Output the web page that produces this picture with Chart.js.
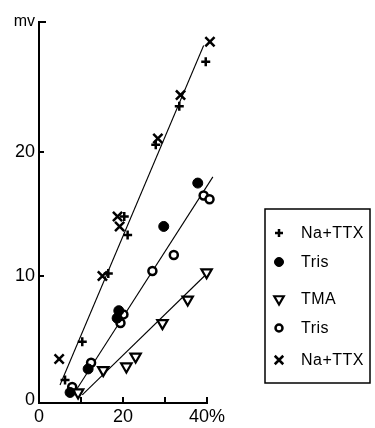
<!DOCTYPE html>
<html>
<head>
<meta charset="utf-8">
<style>
  html, body { margin: 0; background: #fff; }
  #wrap { position: relative; width: 375px; height: 428px; }
</style>
</head>
<body>
<div id="wrap"><canvas id="myChart"></canvas></div>
<script src="https://cdn.jsdelivr.net/npm/chart.js@4/dist/chart.umd.min.js"></script>
<script>
'use strict';
//  данные (x — %, y — mV)
// Na+TTX, крестик "+"
const naPlusX = [6.2, 10.3, 16.5, 20.3, 21.1, 27.8, 33.4, 39.7];
const naPlusY = [1.6, 4.7, 10.2, 14.8, 13.3, 20.6, 23.7, 27.3];
// Tris, закрашенный кружок
const trisFullX = [7.4, 11.7, 18.6, 19.0, 29.7, 37.8, 41.6];
const trisFullY = [0.6, 2.5, 6.6, 7.2, 14.0, 17.5, 18.3];
// TMA, треугольник
const tmaX = [9.3, 15.3, 20.8, 23.0, 29.4, 35.4, 39.9];
const tmaY = [0.6, 2.4, 2.7, 3.5, 6.2, 8.1, 10.3];
// Tris, пустой кружок
const trisOpenX = [7.9, 12.4, 19.4, 20.1, 27.0, 32.1, 39.2, 40.6];
const trisOpenY = [1.05, 3.0, 6.2, 6.9, 10.4, 11.7, 16.5, 16.2];
// Na+TTX, косой крестик "x"
const naRotX = [4.8, 15.1, 18.7, 19.2, 28.3, 33.7, 40.7];
const naRotY = [3.3, 10.0, 14.8, 14.0, 21.1, 24.6, 28.9];

//  прямые (концы линий)
const fitNaX = [5.0, 39.2];
const fitNaY = [1.2, 28.6];
const fitTrisX = [8.1, 41.4];
const fitTrisY = [0.4, 18.0];
const fitTmaX = [10.3, 39.7];
const fitTmaY = [0.4, 10.1];

//  подписи
const legendLabels = ['Na+TTX', 'Tris', 'TMA', 'Tris', 'Na+TTX'];
const xTicks = [0, 10, 20, 30, 40];
const xTickLabels = ['0', '', '20', '', '40%'];
const yTicks = [0, 10, 20, 30.5];
const yTickLabels = ['0', '10', '20', 'mv'];

//  склеивает x и y в точки
function toPoints(xs, ys) {
  return xs.map((x, i) => ({x: x, y: ys[i]}));
}

const black = '#000';
const font = '"Liberation Sans", Arial, sans-serif';

//  маркеры серий
const markerSets = [
  {label: legendLabels[0], data: toPoints(naPlusX, naPlusY), pointStyle: 'cross',
    pointRadius: 4.5, pointBorderWidth: 2.5, pointBackgroundColor: black},
  {label: legendLabels[1], data: toPoints(trisFullX, trisFullY), pointStyle: 'circle',
    pointRadius: 5, pointBorderWidth: 1, pointBackgroundColor: black},
  {label: legendLabels[2], data: toPoints(tmaX, tmaY), pointStyle: 'triangle', pointRotation: 180,
    pointRadius: 6, pointBorderWidth: 2.2, pointBackgroundColor: '#fff'},
  {label: legendLabels[3], data: toPoints(trisOpenX, trisOpenY), pointStyle: 'circle',
    pointRadius: 4, pointBorderWidth: 2.5, pointBackgroundColor: '#fff'},
  {label: legendLabels[4], data: toPoints(naRotX, naRotY), pointStyle: 'crossRot',
    pointRadius: 6.5, pointBorderWidth: 2.5, pointBackgroundColor: black}
].map(d => Object.assign(d, {pointBorderColor: black, showLine: false, order: 1, clip: false}));

//  линии
const lineSets = [[fitNaX, fitNaY], [fitTrisX, fitTrisY], [fitTmaX, fitTmaY]].map(p => ({
  label: '', data: toPoints(p[0], p[1]), showLine: true, pointRadius: 0,
  borderColor: black, borderWidth: 1.1, order: 2, clip: false
}));

//  засечки внутрь осей
const innerTicks = {
  id: 'innerTicks',
  afterDraw(chart) {
    const ctx = chart.ctx;
    const xs = chart.scales.x;
    const ys = chart.scales.y;
    ctx.save();
    ctx.strokeStyle = black;
    ctx.lineWidth = 2;
    ctx.beginPath();
    xTicks.slice(1).forEach(v => {
      const px = xs.getPixelForValue(v);
      ctx.moveTo(px, xs.top);
      ctx.lineTo(px, xs.top - 6);
    });
    yTicks.slice(1).forEach(v => {
      const py = ys.getPixelForValue(v);
      ctx.moveTo(ys.right, py);
      ctx.lineTo(ys.right + (v > 30 ? 7 : 5), py);
    });
    ctx.stroke();
    ctx.restore();
  }
};

//  легенда в рамке справа
const boxLegend = {
  id: 'boxLegend',
  afterDraw(chart) {
    const ctx = chart.ctx;
    const box = {left: 265, top: 209, right: 370, bottom: 383};
    const rows = [233, 262, 299, 328, 360];
    ctx.save();
    ctx.strokeStyle = black;
    ctx.lineWidth = 1.5;
    ctx.strokeRect(box.left, box.top, box.right - box.left, box.bottom - box.top);
    ctx.font = '16px ' + font;
    ctx.textBaseline = 'middle';
    ctx.letterSpacing = '0.5px';
    markerSets.forEach((ds, i) => {
      ctx.fillStyle = ds.pointBackgroundColor;
      ctx.strokeStyle = black;
      ctx.lineWidth = ds.pointBorderWidth;
      Chart.helpers.drawPoint(ctx, {
        pointStyle: ds.pointStyle,
        rotation: ds.pointRotation || 0,
        radius: ds.pointRadius - 0.5,
        borderWidth: ds.pointBorderWidth
      }, 279, rows[i]);
      ctx.fillStyle = black;
      ctx.fillText(ds.label, 301, rows[i] + 1);
    });
    ctx.restore();
  }
};

const ctx = document.getElementById('myChart').getContext('2d');
const chart = new Chart(ctx, {
  type: 'scatter',
  data: {datasets: markerSets.concat(lineSets)},
  options: {
    responsive: true,
    maintainAspectRatio: false,
    animation: false,
    layout: {padding: {top: 22, right: 168, left: 0, bottom: 0}},
    plugins: {legend: {display: false}, tooltip: {enabled: false}},
    scales: {
      x: {
        type: 'linear', min: 0, max: 40,
        afterFit: s => { s.height = 25; },
        afterBuildTicks: s => { s.ticks = xTicks.map(v => ({value: v})); },
        grid: {display: false, tickLength: 0},
        border: {display: true, color: black, width: 2},
        ticks: {
          color: black, padding: 3, maxRotation: 0, autoSkip: false,
          font: {family: font, size: 18},
          callback: (v, i) => xTickLabels[i]
        }
      },
      y: {
        type: 'linear', min: -0.25, max: 30.5,
        afterFit: s => { s.width = 39; },
        afterBuildTicks: s => { s.ticks = yTicks.map(v => ({value: v})); },
        grid: {display: false, tickLength: 0},
        border: {display: true, color: black, width: 2},
        ticks: {
          color: black, padding: 4, autoSkip: false,
          font: c => ({family: font, size: c.tick && c.tick.value > 30 ? 16 : 18}),
          callback: (v, i) => yTickLabels[i]
        }
      }
    }
  },
  plugins: [innerTicks, boxLegend]
});
</script>
</body>
</html>
